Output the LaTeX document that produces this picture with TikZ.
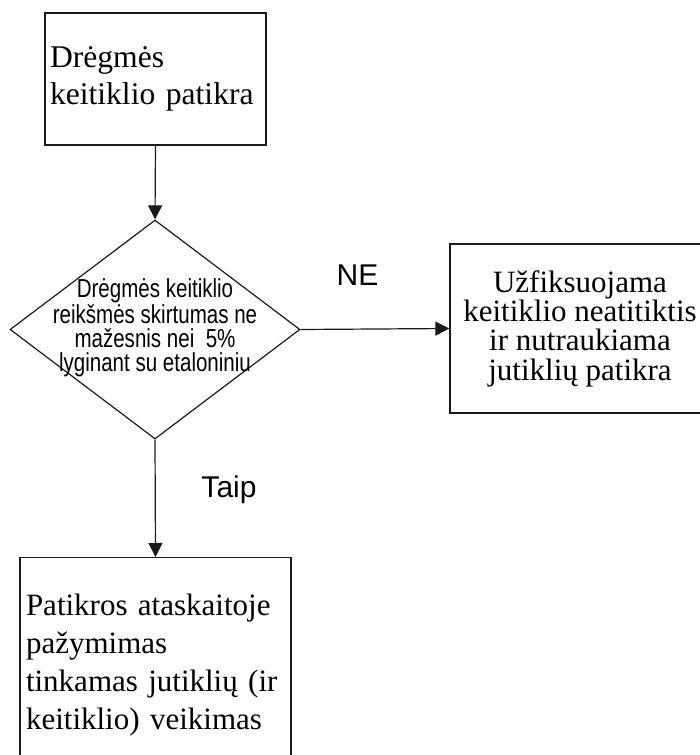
\documentclass[tikz,border=0pt]{standalone}
\usepackage{fontspec}
\setmainfont{Liberation Serif}
\newfontfamily\arialfont{Liberation Sans}
\newfontfamily\arialnarrow[FakeStretch=0.79]{Liberation Sans}
\usepackage{xcolor}
\definecolor{flowLine}{HTML}{1A1A1A}
\usetikzlibrary{shapes.geometric,arrows.meta}

\tikzset{
  flowbox/.style={draw=flowLine, line width=0.6pt, rectangle, inner sep=2.5pt},
  flowarrow/.style={draw=flowLine, line width=0.6pt, -{Triangle[length=7pt,width=7pt]}},
  answer/.style={font=\arialfont\fontsize{15}{18}\selectfont, inner sep=0pt}
}

\begin{document}
\begin{tikzpicture}[x=0.5pt, y=-0.5pt]
  \useasboundingbox (0,0) rectangle (700,755);
  \node[flowbox, minimum width=110.5pt, minimum height=66pt, text width=105.5pt, align=left,
        font=\fontsize{15.8}{18.3}\selectfont] (check) at (155.5,79) {Drėgmės\\keitiklio patikra};
  \node[draw=flowLine, line width=0.6pt, diamond, minimum width=145pt, minimum height=109.5pt,
        inner sep=0pt] (test) at (155,329.5) {};
  \node[align=center, inner sep=0pt, font=\arialnarrow\fontsize{13}{12}\selectfont] (testtext) at (155,328)
        {Drėgmės keitiklio\\reikšmės skirtumas ne\\mažesnis nei~ 5\%\\lyginant su etaloniniu};
  \node[flowbox, minimum width=130pt, minimum height=84.5pt, align=center,
        font=\fontsize{15.5}{14.7}\selectfont] (fail) at (580,328.5)
        {Užfiksuojama\\keitiklio neatitiktis\\ir nutraukiama\\jutiklių patikra};
  \node[flowbox, minimum width=135.5pt, minimum height=107.5pt, text width=129.5pt, align=left,
        font=\fontsize{15.5}{19}\selectfont, anchor=north] (pass) at (155.5,557)
        {Patikros ataskaitoje\\pažymimas\\tinkamas jutiklių (ir\\keitiklio) veikimas};
  \draw[flowarrow] (check.south) -- (test.north);
  \draw[flowarrow] (test.east) -- (fail.west);
  \draw[flowarrow] (test.south) -- (pass.north);
  \node[answer] (no) at (357.5,275) {NE};
  \node[answer] (yes) at (229,490) {Taip};
\end{tikzpicture}
\end{document}
